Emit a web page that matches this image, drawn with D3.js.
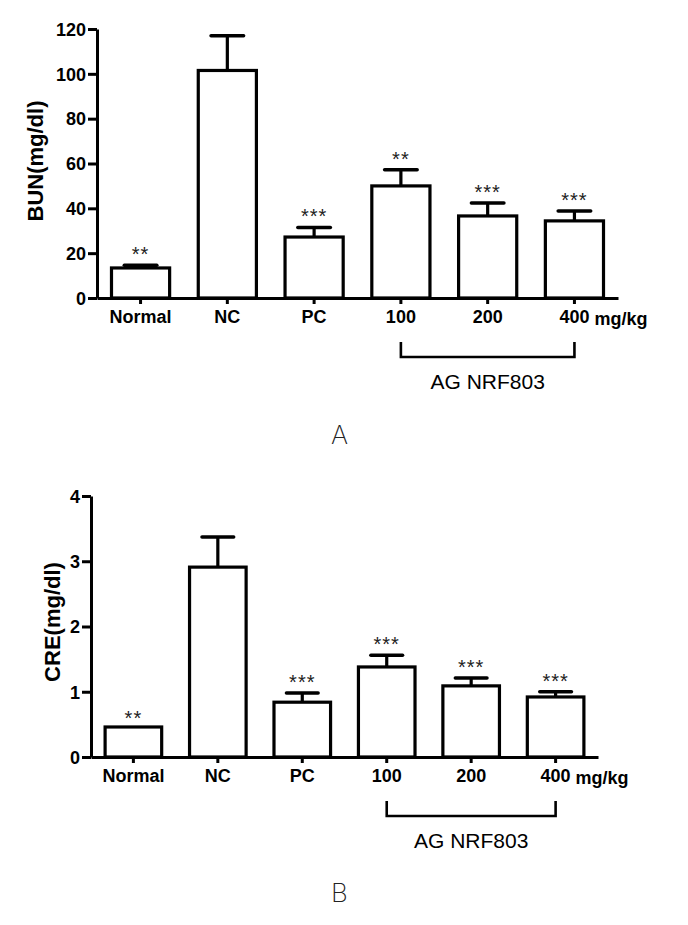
<!DOCTYPE html>
<html><head><meta charset="utf-8">
<script src="https://cdn.jsdelivr.net/npm/d3@7"></script>
<style>
body{margin:0;background:#fff;}
svg text{font-family:Arial,"Liberation Sans",sans-serif;}
</style></head>
<body><svg id="c" width="688" height="925"></svg>
<script>
const categories = ["Normal","NC","PC","100","200","400"];
const bunMean = [13.4, 101.5, 27.2, 50.0, 36.6, 34.4];
const bunErr  = [1.2, 15.5, 4.3, 7.2, 5.8, 4.4];
const bunSig  = ["**","","***","**","***","***"];
const bunTicks = [0,20,40,60,80,100,120];
const creMean = [0.46, 2.91, 0.84, 1.38, 1.09, 0.92];
const creErr  = [0, 0.46, 0.14, 0.18, 0.12, 0.08];
const creSig  = ["**","","***","***","***","***"];
const creTicks = [0,1,2,3,4];
const unitLabel = "mg/kg";
const groupLabel = "AG NRF803";

const svg = d3.select("#c");

function panel(cfg){
  const g = svg.append("g");
  const x = d3.scaleBand().domain(categories).range([cfg.x0, cfg.x1]).paddingInner(0.33).paddingOuter(0.167);
  const y = d3.scaleLinear().domain(cfg.domain).range([cfg.yb, cfg.yt]);
  const bw = x.bandwidth();

  // y axis
  const ya = g.append("g").attr("transform",`translate(${cfg.x0},0)`)
    .call(d3.axisLeft(y).tickValues(cfg.ticks).tickFormat(d3.format("d")).tickSize(9).tickSizeOuter(0).tickPadding(2));
  ya.select(".domain").attr("stroke","#000").attr("stroke-width",3);
  ya.selectAll(".tick line").attr("stroke","#000").attr("stroke-width",3);
  ya.selectAll(".tick text").attr("font-size",18).attr("font-weight","bold").attr("fill","#000")
    .attr("font-family","Arial, 'Liberation Sans', sans-serif").attr("dy","0.35em");

  // bars
  g.selectAll("rect.bar").data(cfg.mean).join("rect")
    .attr("x",(d,i)=>x(categories[i])).attr("width",bw)
    .attr("y",d=>y(d)).attr("height",d=>y(0)-y(d))
    .attr("fill","#fff").attr("stroke","#000").attr("stroke-width",3.2);

  // error bars
  cfg.mean.forEach((m,i)=>{
    if(!cfg.err[i]) return;
    const cx = x(categories[i]) + bw/2;
    const top = y(m+cfg.err[i]);
    g.append("line").attr("x1",cx).attr("x2",cx).attr("y1",y(m)).attr("y2",top)
      .attr("stroke","#000").attr("stroke-width",3.2);
    g.append("line").attr("x1",cx-bw*0.28).attr("x2",cx+bw*0.28).attr("y1",top).attr("y2",top)
      .attr("stroke","#000").attr("stroke-width",3.5).attr("stroke-linecap","round");
  });

  // significance
  cfg.sig.forEach((s,i)=>{
    if(!s) return;
    const cx = x(categories[i]) + bw/2;
    const top = y(cfg.mean[i]+cfg.err[i]);
    g.append("text").attr("x",cx).attr("y",top-(cfg.err[i]?4:2)).attr("text-anchor","middle")
      .attr("font-size",20).attr("fill","#222").attr("letter-spacing","1px").text(s);
  });

  // x axis
  const xa = g.append("g").attr("transform",`translate(0,${cfg.yb})`)
    .call(d3.axisBottom(x).tickSize(6).tickSizeOuter(0).tickPadding(6));
  xa.select(".domain").attr("stroke","#000").attr("stroke-width",3);
  xa.selectAll(".tick line").attr("stroke","#000").attr("stroke-width",3);
  xa.selectAll(".tick text").attr("font-size",18).attr("font-weight","bold").attr("fill","#000")
    .attr("font-family","Arial, 'Liberation Sans', sans-serif");

  const c400 = x("400")+bw/2, c100 = x("100")+bw/2;
  g.append("text").attr("x",c400+20).attr("y",cfg.yb+26.5).attr("font-size",18).attr("font-weight","bold").text(unitLabel);

  // bracket
  const by0 = cfg.yb+44, by1 = cfg.yb+59;
  g.append("path").attr("d",`M${c100},${by0}V${by1}H${c400}V${by0}`)
    .attr("fill","none").attr("stroke","#000").attr("stroke-width",2.6);
  g.append("text").attr("x",(c100+c400)/2).attr("y",by1+32).attr("text-anchor","middle")
    .attr("font-size",21).attr("fill","#000").text(groupLabel);

  // y label
  g.append("text").attr("transform",`translate(${cfg.lx},${cfg.ly}) rotate(-90)`)
    .attr("text-anchor","middle").attr("font-size",22).attr("font-weight","bold").text(cfg.ylabel);

  // panel letter
  g.append("text").attr("x",339.5).attr("y",cfg.letterY).attr("text-anchor","middle")
    .attr("font-size",26).attr("font-weight",200).attr("fill","#222")
    .style("font-family","Inter, 'Noto Sans', sans-serif").text(cfg.letter);
}

panel({x0:97, x1:618, yb:298, yt:29, domain:[0,120], ticks:bunTicks, mean:bunMean, err:bunErr, sig:bunSig,
  ylabel:"BUN(mg/dl)", lx:43, ly:161, letter:"A", letterY:444});
panel({x0:91, x1:598, yb:757, yt:496, domain:[0,4], ticks:creTicks, mean:creMean, err:creErr, sig:creSig,
  ylabel:"CRE(mg/dl)", lx:60, ly:622, letter:"B", letterY:902});
</script></body></html>
